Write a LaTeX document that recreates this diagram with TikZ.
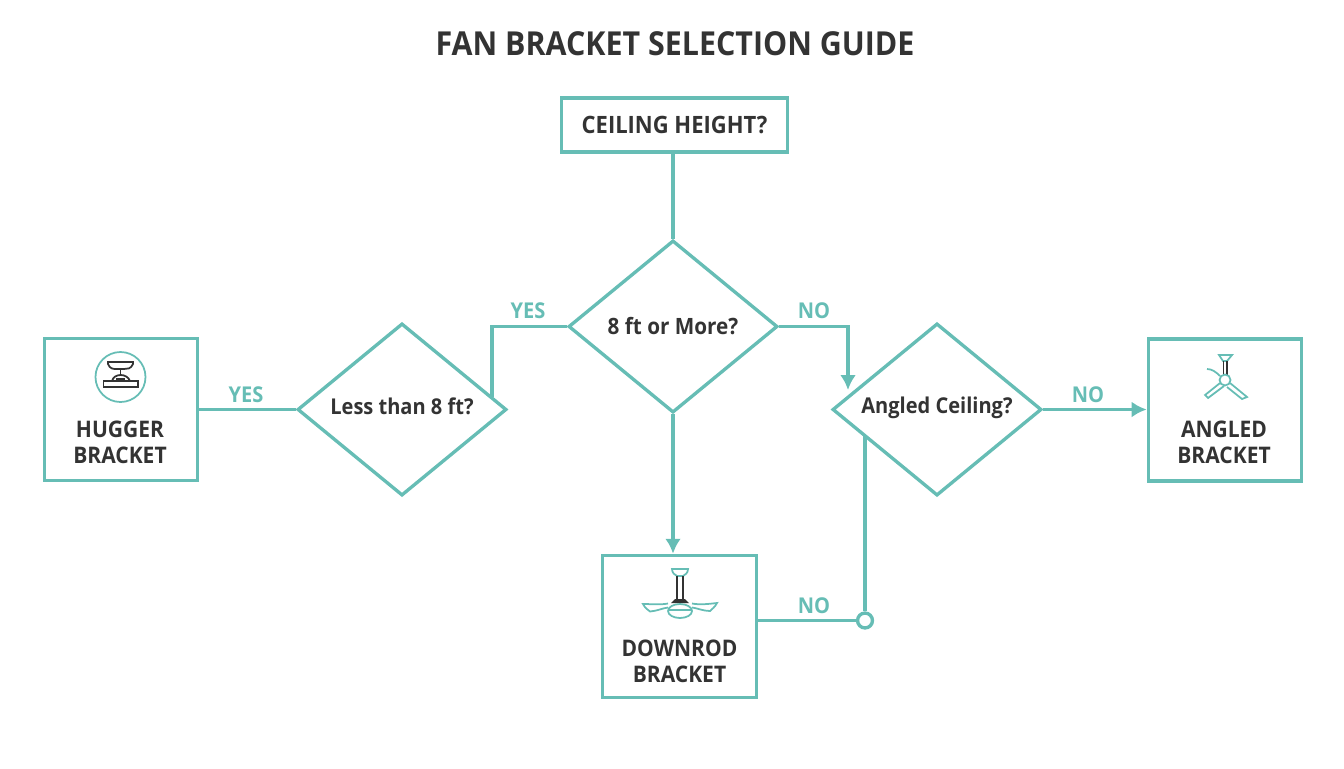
\documentclass[tikz,border=0pt]{standalone}
\usepackage{fontspec}
\setmainfont[FakeStretch=0.92]{Open Sans}
\usetikzlibrary{shapes.geometric,arrows.meta}
\definecolor{tealline}{HTML}{66BDB5}
\definecolor{darktext}{HTML}{333333}
\tikzset{
  linea/.style={draw=tealline, line width=1.9pt},
  flecha/.style={linea, -{Latex[length=8.5pt,width=9pt]}},
  caja/.style={linea, rectangle, inner sep=0pt},
  rombo/.style={linea, diamond, inner sep=0pt, minimum width=119pt, minimum height=98pt, text=darktext, text height=8pt, text depth=2pt, font=\bfseries\fontsize{12.4}{14}\selectfont},
  rotulo/.style={text=darktext, align=center, font=\bfseries\fontsize{13}{14.8}\selectfont},
  resp/.style={text=tealline, font=\bfseries\fontsize{12.4}{14}\selectfont},
  oscuro/.style={draw=darktext, line width=1pt},
  claro/.style={draw=tealline, line width=1pt}
}
\begin{document}
\begin{tikzpicture}[x=0.02cm, y=-0.02cm]
    \useasboundingbox (0,0) rectangle (1344,768);

    % Titulo
    \node[text=darktext, font=\bfseries\fontsize{18.8}{20}\selectfont] (titulo) at (675,44) {FAN BRACKET SELECTION GUIDE};

    % Cajas
    \node[caja, minimum width=128.7pt, minimum height=30.6pt, text=darktext, font=\bfseries\fontsize{13.6}{14}\selectfont] (techo) at (674.5,125) {\raisebox{-0.6pt}{CEILING HEIGHT?}};
    \node[caja, minimum width=87.3pt, minimum height=81pt] (hugger) at (121,409.5) {};
    \node[caja, minimum width=87.3pt, minimum height=81pt] (downrod) at (679.5,626.5) {};
    \node[caja, minimum width=87.3pt, minimum height=81pt] (angled) at (1225,410) {};
    \node[rotulo] (huggertxt) at (120,442) {HUGGER\\BRACKET};
    \node[rotulo] (downrodtxt) at (679.5,661) {DOWNROD\\BRACKET};
    \node[rotulo] (angledtxt) at (1224,442) {ANGLED\\BRACKET};

    % Rombos
    \node[rombo] (ocho) at (673,326.5) {\raisebox{-1.4pt}{\fontsize{12.8}{14}\selectfont 8 ft or More?}};
    \node[rombo] (menos) at (402,409.5) {\raisebox{0.4pt}{Less than 8 ft?}};
    \node[rombo] (angulo) at (937,409.5) {\raisebox{1pt}{Angled Ceiling?}};

    % Puntos de llegada
    \coordinate (llegamenos) at (492,397);
    \coordinate (llegaangulo) at (848,390);
    \coordinate (salebajo) at (864,436);
    \node[linea, circle, fill=white, inner sep=0pt, minimum size=8.5pt] (union) at (865,620.5) {};

    % Conectores
    \draw[linea] (ocho.north |- techo.south) -- (ocho.north);
    \draw[linea] (ocho.west) -| (llegamenos);
    \draw[flecha] (ocho.east) -| (llegaangulo);
    \draw[flecha] (ocho.south) -- (ocho.south |- downrod.north);
    \draw[linea] (menos.west) -- (menos.west -| hugger.east);
    \draw[flecha] (angulo.east) -- (angulo.east -| angled.west);
    \draw[linea] (downrod.east |- union) -- (union);
    \draw[linea] (union) -- (union |- salebajo);

    % Respuestas
    \node[resp] (siuno) at (528,311) {YES};
    \node[resp] (nouno) at (814,311) {NO};
    \node[resp] (sidos) at (246,395) {YES};
    \node[resp] (nodos) at (1088,395) {NO};
    \node[resp] (notres) at (814,606) {NO};

    % Icono hugger
    \draw[draw=tealline, line width=1pt] (120.5,377) circle (25);
    \draw[oscuro] (108,362) -- (133,362) -- (133,364) .. controls (131,369) and (127,369) .. (124,369) -- (117,369) .. controls (113,369) and (110,369) .. (108,364) -- cycle;
    \draw[oscuro] (120.5,369) -- (120.5,374);
    \draw[oscuro] (112,381) .. controls (114,373) and (127,373) .. (130,381);
    \draw[oscuro] (103.5,381) rectangle (138,387);
    \draw[oscuro] (116,379) -- (125,379);

    % Icono downrod
    \draw[claro] (672,569) -- (688,569) .. controls (688,573) and (685,575) .. (683,576) -- (677,576) .. controls (675,575) and (672,573) .. (672,569) -- cycle;
    \draw[oscuro] (677,576) -- (677,599);
    \draw[oscuro] (683,576) -- (683,599);
    \fill[darktext] (671,603) -- (675,599) -- (685,599) -- (689,603) -- cycle;
    \draw[claro] (668,603.5) .. controls (660,605) and (652,604) .. (643,604) .. controls (645,608) and (648,610) .. (650,611.5) .. controls (657,611) and (663,608) .. (668,607.5);
    \draw[claro] (692,603.5) .. controls (700,605) and (708,604) .. (717,603) .. controls (715,607) and (712,609) .. (710,611) .. controls (703,611) and (697,608) .. (692,607.5);
    \draw[claro] (680,611) ellipse (12 and 7);
    \draw[claro] (669,610) -- (691,610);

    % Icono angled
    \draw[claro] (1219,355) -- (1232,355) -- (1227,361) -- (1223,361) -- cycle;
    \draw[oscuro] (1223.5,361) -- (1223.5,375);
    \draw[oscuro] (1227,361) -- (1227,375);
    \draw[claro] (1225,380) circle (5.5);
    \draw[claro] (1220,383) -- (1205,395) -- (1208,398) -- (1224,386);
    \draw[claro] (1230,383) -- (1247,397) -- (1242,399) -- (1227,387);
    \draw[claro] (1207,369) .. controls (1212,369) and (1216,372) .. (1220,376);
\end{tikzpicture}
\end{document}
